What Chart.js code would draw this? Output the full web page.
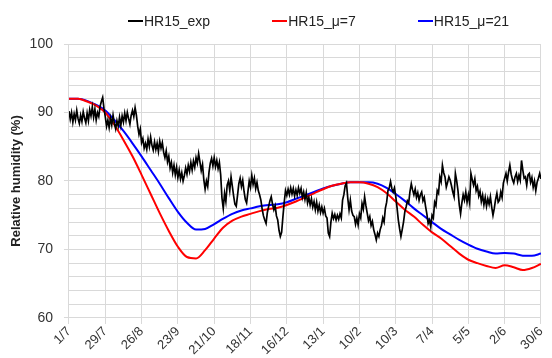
<!DOCTYPE html>
<html>
<head>
<meta charset="utf-8">
<script src="https://cdn.jsdelivr.net/npm/chart.js@4.4.1/dist/chart.umd.min.js"></script>
<style>
  body { margin: 0; background: #fff; }
  #wrap { position: relative; width: 552px; height: 358px; }
  #legend { position: absolute; top: 13px; left: 128px; display: flex; gap: 62px;
            font: 14px "Liberation Sans", Arial, sans-serif; color: #222; }
  #legend span.item { display: flex; align-items: center; }
  #legend span.swatch { display: inline-block; width: 15px; height: 2px; margin-right: 1px; }
</style>
</head>
<body>
<div id="wrap">
  <canvas id="hr15" width="552" height="358"></canvas>
  <div id="legend"></div>
</div>
<script>
// x tick labels, one every 28 days starting 1/7
var dateLabels = ['1/7','29/7','26/8','23/9','21/10','18/11','16/12','13/1','10/2','10/3','7/4','5/5','2/6','30/6'];

var seriesNames = ['HR15_exp', 'HR15_\u03bc=7', 'HR15_\u03bc=21'];
var seriesColors = ['#000000', '#ff0000', '#0000ff'];

// measured daily relative humidity (day 0 = 1/7)
var hrExp = [
  90.2, 89.0, 90.0, 88.6, 89.8, 88.9, 90.3, 89.1, 88.4, 89.6,
  88.7, 90.1, 89.2, 88.5, 89.9, 88.8, 90.4, 89.5, 90.8, 89.3,
  90.5, 88.9, 90.0, 89.4, 90.9, 91.6, 92.2, 90.6, 89.4, 88.0,
  88.9, 87.8, 89.2, 88.2, 89.6, 88.4, 87.6, 88.8, 88.0, 89.3,
  88.1, 89.5, 88.6, 89.9, 88.8, 90.0, 89.1, 88.3, 89.6, 90.3,
  89.4, 90.7, 89.6, 88.0, 86.8, 87.6, 85.6, 86.2, 84.8, 85.5,
  84.6, 86.1, 85.0, 86.4, 85.2, 84.5, 85.7, 84.6, 85.5, 84.3,
  85.8, 84.8, 85.6, 84.2, 83.4, 84.4, 82.8, 83.6, 81.9, 82.7,
  81.2, 82.3, 80.9, 82.0, 80.5, 81.6, 80.3, 81.2, 80.0, 80.8,
  81.9, 81.0, 82.3, 81.4, 82.7, 81.6, 82.9, 82.0, 83.4, 82.6,
  84.0, 82.8, 81.5, 82.4, 80.2, 78.8, 80.0, 79.2, 81.3, 82.6,
  83.3, 82.2, 83.4, 82.1, 83.0, 81.8, 82.7, 80.9, 77.5, 76.0,
  78.2, 77.0, 79.4, 80.0, 78.6, 80.6, 79.2, 77.8, 76.6, 76.3,
  77.9, 79.6, 80.4, 79.2, 80.1, 78.5, 77.3, 76.8, 78.4, 80.0,
  79.1, 80.8, 79.5, 80.4, 78.9, 79.8, 78.6, 78.0, 77.2, 75.9,
  74.9, 74.3, 73.8, 75.4, 76.3, 77.1, 77.7, 76.6, 75.8, 76.4,
  74.9, 74.3, 72.8, 71.9, 72.5, 74.8, 76.9, 78.6, 77.9, 78.8,
  78.0, 79.0, 78.1, 78.9, 77.8, 78.7, 77.9, 79.0, 78.2, 78.9,
  77.6, 78.4, 77.3, 78.3, 76.8, 77.6, 76.5, 77.4, 76.2, 77.0,
  75.8, 76.9, 75.6, 76.5, 75.4, 76.2, 75.3, 76.0, 74.9, 74.6,
  72.4, 71.9, 74.0, 75.3, 74.5, 75.1, 74.3, 75.0, 74.4, 75.2,
  74.6, 77.2, 78.0, 79.3, 79.7, 77.5, 75.8, 77.2, 75.6, 75.0,
  74.8, 73.7, 74.6, 73.6, 75.2, 74.6, 76.7, 75.9, 77.7, 76.4,
  75.3, 74.2, 74.8, 73.5, 74.1, 72.9, 72.2, 71.4, 72.4, 71.9,
  72.9, 73.5, 74.6, 74.0, 76.0, 76.9, 78.6, 79.0, 79.9, 78.9,
  78.4, 79.0, 77.8, 76.1, 74.3, 73.0, 71.9, 72.9, 74.0, 75.5,
  76.2, 77.1, 76.8, 78.5, 79.6, 78.7, 78.0, 78.8, 77.6, 78.3,
  77.2, 78.0, 78.4, 77.1, 77.6, 76.3, 75.2, 73.8, 74.3, 73.3,
  75.0, 74.6, 76.9, 76.4, 78.6, 78.2, 80.6, 79.9, 82.3, 81.2,
  80.6, 79.1, 79.8, 80.6, 80.1, 79.3, 78.4, 77.7, 81.1, 80.0,
  78.6, 76.5, 75.2, 76.8, 78.0, 77.2, 78.4, 76.9, 78.0, 76.8,
  81.1, 80.2, 79.4, 80.3, 78.6, 79.2, 77.8, 78.5, 77.0, 77.9,
  76.5, 77.6, 76.3, 77.4, 76.6, 77.7, 76.2, 75.0, 76.0, 77.3,
  78.2, 76.9, 77.2, 78.4, 77.6, 79.7, 80.4, 81.1, 80.0, 81.3,
  82.3, 81.0, 80.2, 79.7, 80.6, 81.1, 79.9, 80.8, 80.1, 83.0,
  81.6, 80.4, 80.6, 79.4, 80.9, 81.1, 79.8, 80.5, 79.1, 80.0,
  78.6, 79.8, 80.4, 81.1, 80.3
];

// simulated series, read weekly
var modelDays = [0,7,14,21,28,35,42,49,56,63,70,77,84,91,98,105,112,119,126,133,140,147,154,161,168,175,182,189,196,203,210,217,224,231,238,245,252,259,266,273,280,287,294,301,308,315,322,329,336,343,350,357,364];
var hrMu7 = [92.0,92.0,91.6,91.0,90.0,88.2,86.0,83.6,80.9,78.1,75.3,72.7,70.4,68.9,68.7,69.9,71.6,73.2,74.2,74.8,75.2,75.6,75.9,76.1,76.5,77.0,77.6,78.2,78.8,79.3,79.6,79.8,79.8,79.6,79.1,78.2,77.0,75.8,74.8,73.6,72.5,71.6,70.5,69.4,68.5,68.0,67.6,67.3,67.7,67.4,67.0,67.3,67.9];
var hrMu21 = [92.0,92.0,91.7,91.1,90.3,88.9,87.3,85.5,83.6,81.6,79.6,77.5,75.5,73.9,72.9,73.0,73.7,74.5,75.2,75.7,76.0,76.3,76.5,76.6,76.9,77.4,77.9,78.4,78.9,79.3,79.6,79.8,79.8,79.8,79.6,79.0,78.1,77.1,76.0,75.0,74.0,73.0,72.2,71.4,70.7,70.1,69.7,69.4,69.5,69.4,69.1,69.1,69.4];

// legend as html, spaced like the original
var legend = document.getElementById('legend');
seriesNames.forEach(function(name, i) {
  var item = document.createElement('span');
  item.className = 'item';
  item.innerHTML = '<span class="swatch" style="background:' + seriesColors[i] + '"></span>' + name;
  legend.appendChild(item);
});

function pts(xs, ys) {
  return ys.map(function(v, i) { return {x: xs ? xs[i] : i, y: v}; });
}

var gridColor = '#d9d9d9';
var font = "'Liberation Sans', Arial, sans-serif";

new Chart('hr15', {
  type: 'line',
  data: {
    datasets: [
      { label: seriesNames[0], data: pts(null, hrExp), borderColor: seriesColors[0], borderWidth: 1.7, pointRadius: 0, tension: 0 },
      { label: seriesNames[1], data: pts(modelDays, hrMu7), borderColor: seriesColors[1], borderWidth: 2, pointRadius: 0, cubicInterpolationMode: 'monotone' },
      { label: seriesNames[2], data: pts(modelDays, hrMu21), borderColor: seriesColors[2], borderWidth: 2, pointRadius: 0, cubicInterpolationMode: 'monotone' }
    ]
  },
  options: {
    responsive: false,
    animation: false,
    layout: { padding: { top: 44, left: 5, right: 8, bottom: 0 } },
    plugins: { legend: { display: false }, tooltip: { enabled: false } },
    scales: {
      x: {
        type: 'linear',
        min: 0, max: 364,
        grid: { color: gridColor, tickLength: 6, tickColor: gridColor },
        border: { color: gridColor },
        ticks: {
          stepSize: 28, autoSkip: false, maxRotation: 45, minRotation: 45, padding: 0,
          color: '#333', font: { family: font, size: 13 },
          callback: function(v) { return dateLabels[v / 28]; }
        }
      },
      y: {
        min: 60, max: 100,
        grid: { color: gridColor, tickLength: 11, tickBorderDash: [0, 6, 5],
                tickColor: function(c) { return c.tick && c.tick.value % 10 === 0 ? gridColor : 'transparent'; } },
        border: { color: gridColor },
        title: { display: true, text: 'Relative humidity (%)', color: '#222', font: { family: font, size: 13, weight: 'bold' }, padding: { top: 4, bottom: 0 } },
        ticks: {
          stepSize: 2, autoSkip: false, padding: 5,
          color: '#333', font: { family: font, size: 14 },
          callback: function(v) { return v % 10 === 0 ? v : ''; }
        }
      }
    }
  }
});
</script>
</body>
</html>
